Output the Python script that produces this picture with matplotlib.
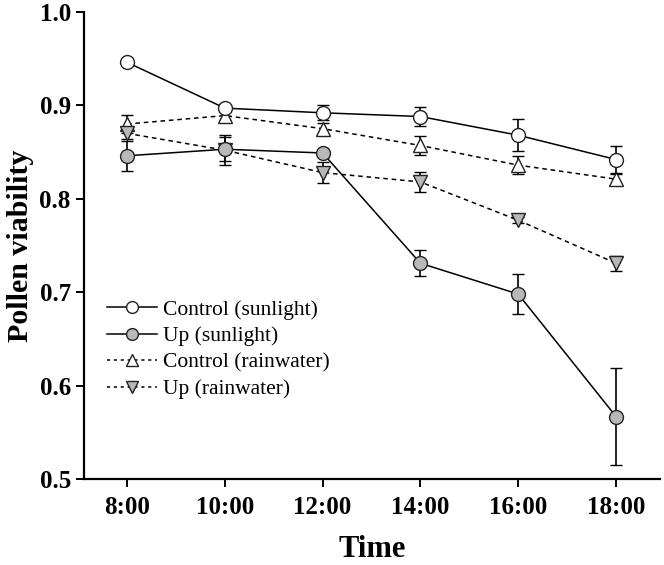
import matplotlib
matplotlib.use("Agg")
import matplotlib.pyplot as plt
from matplotlib.lines import Line2D

times = ["8:00", "10:00", "12:00", "14:00", "16:00", "18:00"]
ctrl_sun = [0.946, 0.897, 0.892, 0.888, 0.868, 0.842]
ctrl_sun_err = [0.003, 0.003, 0.008, 0.010, 0.017, 0.014]
up_sun = [0.846, 0.853, 0.849, 0.731, 0.698, 0.567]
up_sun_err = [0.016, 0.013, 0.004, 0.014, 0.021, 0.052]
ctrl_rain = [0.880, 0.889, 0.875, 0.857, 0.836, 0.821]
ctrl_rain_err = [0.010, 0.005, 0.006, 0.010, 0.010, 0.005]
up_rain = [0.870, 0.852, 0.828, 0.818, 0.777, 0.731]
up_rain_err = [0.006, 0.016, 0.011, 0.011, 0.003, 0.008]
labels = ['Control (sunlight)', 'Up (sunlight)', 'Control (rainwater)', 'Up (rainwater)']

plt.rcParams['font.family'] = ['Liberation Serif', 'DejaVu Serif']

fig = plt.figure(figsize=(6.64, 5.65), dpi=100)
ax = fig.add_axes([0.1265, 0.152, 0.8675, 0.827])
x = list(range(len(times)))
gray = '#b8b8b8'
common = dict(color='black', capsize=4, elinewidth=1.2, capthick=1.2, markersize=10,
              markeredgecolor='#222222', markeredgewidth=1.0, linewidth=1.1)

ax.errorbar(x, ctrl_sun, yerr=ctrl_sun_err, fmt='-o', markerfacecolor='white', zorder=4, **common)
ax.errorbar(x, up_sun, yerr=up_sun_err, fmt='-o', markerfacecolor=gray, zorder=4, **common)
ax.errorbar(x, ctrl_rain, yerr=ctrl_rain_err, fmt='--^', markerfacecolor='white',
            dashes=(3, 2.5), zorder=3, **common)
ax.errorbar(x, up_rain, yerr=up_rain_err, fmt='--v', markerfacecolor=gray,
            dashes=(3, 2.5), zorder=3, **common)

ax.set_xlim(-0.44, 5.45)
ax.set_ylim(0.5, 1.0)
ax.set_yticks([0.5, 0.6, 0.7, 0.8, 0.9, 1.0])
ax.set_yticklabels(['0.5', '0.6', '0.7', '0.8', '0.9', '1.0'])
ax.set_xticks(x)
ax.set_xticklabels(times)
for s in ['top', 'right']:
    ax.spines[s].set_visible(False)
for s in ['left', 'bottom']:
    ax.spines[s].set_linewidth(1.6)
ax.tick_params(axis='both', direction='out', length=6, width=1.4, labelsize=18)
ax.tick_params(axis='x', pad=6)
for lab in ax.get_xticklabels() + ax.get_yticklabels():
    lab.set_fontweight('bold')
ax.set_xlabel('Time', fontsize=22, fontweight='bold', labelpad=12)
ax.set_ylabel('Pollen viability', fontsize=21.5, fontweight='bold', labelpad=4)

lk = dict(color='black', markersize=8.5, markeredgecolor='#222222', markeredgewidth=1.0, linewidth=1.1)
handles = [
    Line2D([], [], linestyle='-', marker='o', markerfacecolor='white', **lk),
    Line2D([], [], linestyle='-', marker='o', markerfacecolor=gray, **lk),
    Line2D([], [], linestyle='--', dashes=(2, 2.5), marker='^', markerfacecolor='white', **lk),
    Line2D([], [], linestyle='--', dashes=(2, 2.5), marker='v', markerfacecolor=gray, **lk),
]
ax.legend(handles, labels, loc='upper left', bbox_to_anchor=(0.04, 0.384), frameon=False,
          borderpad=0, borderaxespad=0, fontsize=15.5, handlelength=2.3, handletextpad=0.3,
          labelspacing=0.3)

fig.savefig('out.png', dpi=100)
